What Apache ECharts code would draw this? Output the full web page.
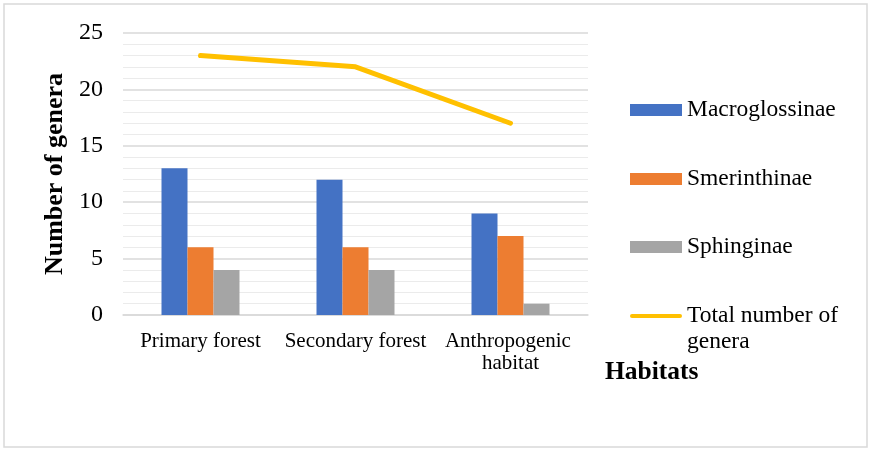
<!DOCTYPE html>
<html>
<head>
<meta charset="utf-8">
<script src="https://cdn.jsdelivr.net/npm/echarts@6/dist/echarts.min.js"></script>
<style>
  html, body { margin: 0; padding: 0; background: #fff; }
  #chart { width: 869px; height: 450px; }
</style>
</head>
<body>
<div id="chart"></div>
<script>
// Habitat categories and genus counts per subfamily
const habitats = ['Primary forest', 'Secondary forest', 'Anthropogenic habitat'];
const macroglossinae = [13, 12, 9];
const smerinthinae = [6, 6, 7];
const sphinginae = [4, 4, 1];
const totalGenera = [23, 22, 17];
const yTicks = [0, 5, 10, 15, 20, 25];

const serif = '"Liberation Serif", "Times New Roman", serif';
const legendText = { fontFamily: serif, fontSize: 23.5, color: '#000', lineHeight: 26 };

// one legend block per entry so each sits at its own height
function legendFor(name, centerY, extra) {
  return Object.assign({
    data: [name],
    left: 630,
    top: centerY - 13,
    orient: 'vertical',
    padding: 0,
    itemWidth: 52,
    itemHeight: 12,
    itemGap: 0,
    icon: 'rect',
    selectedMode: false,
    textStyle: legendText
  }, extra || {});
}

// rounded bar used as the legend key of the total line
const lineKey = 'path://M2,0 L50,0 A2,2 0 0 1 50,4 L2,4 A2,2 0 0 1 2,0 Z';

const chart = echarts.init(document.getElementById('chart'));
chart.setOption({
  animation: false,
  backgroundColor: '#fff',
  grid: { left: 123, right: 281, top: 33, bottom: 135, containLabel: false },
  title: {
    text: 'Habitats',
    left: 605,
    top: 359,
    padding: 0,
    textStyle: { fontFamily: serif, fontSize: 25.5, fontWeight: 'bold', color: '#000' }
  },
  legend: [
    legendFor('Macroglossinae', 110),
    legendFor('Smerinthinae', 179),
    legendFor('Sphinginae', 247),
    legendFor('Total number of genera', 316, {
      top: 316 - 39,
      data: [{ name: 'Total number of genera', icon: lineKey }],
      itemHeight: 5,
      formatter: () => '\u00a0\nTotal number of\ngenera'
    })
  ],
  xAxis: {
    type: 'category',
    data: habitats,
    axisTick: { show: false },
    axisLine: { lineStyle: { color: '#d9d9d9', width: 1.5 } },
    axisLabel: {
      interval: 0,
      margin: 15,
      fontFamily: serif,
      fontSize: 21,
      lineHeight: 22,
      color: '#000',
      width: 150,
      overflow: 'break'
    }
  },
  yAxis: {
    type: 'value',
    min: yTicks[0],
    max: yTicks[yTicks.length - 1],
    interval: 5,
    name: 'Number of genera',
    nameLocation: 'middle',
    nameRotate: 90,
    nameGap: 55,
    nameTextStyle: { fontFamily: serif, fontSize: 26, fontWeight: 'bold', color: '#000' },
    axisLine: { show: false },
    axisTick: { show: false },
    axisLabel: { margin: 20, fontFamily: serif, fontSize: 24, color: '#000' },
    splitLine: { show: true, lineStyle: { color: '#d9d9d9', width: 1.5 } },
    minorTick: { show: false, splitNumber: 5 },
    minorSplitLine: { show: true, lineStyle: { color: '#ebebeb', width: 1 } }
  },
  graphic: [{
    type: 'rect',
    shape: { x: 4, y: 4, width: 863, height: 443 },
    style: { fill: 'none', stroke: '#d9d9d9', lineWidth: 1.5 },
    silent: true,
    z: -10
  }],
  series: [
    {
      name: 'Macroglossinae', type: 'bar', data: macroglossinae,
      barWidth: 26, barGap: '0%', itemStyle: { color: '#4472C4' }
    },
    {
      name: 'Smerinthinae', type: 'bar', data: smerinthinae,
      barWidth: 26, barGap: '0%', itemStyle: { color: '#ED7D31' }
    },
    {
      name: 'Sphinginae', type: 'bar', data: sphinginae,
      barWidth: 26, barGap: '0%', itemStyle: { color: '#A5A5A5' }
    },
    {
      name: 'Total number of genera', type: 'line', data: totalGenera,
      symbol: 'none', z: 5,
      lineStyle: { color: '#FFC000', width: 5, cap: 'round', join: 'round' },
      itemStyle: { color: '#FFC000' }
    }
  ]
});
</script>
</body>
</html>
